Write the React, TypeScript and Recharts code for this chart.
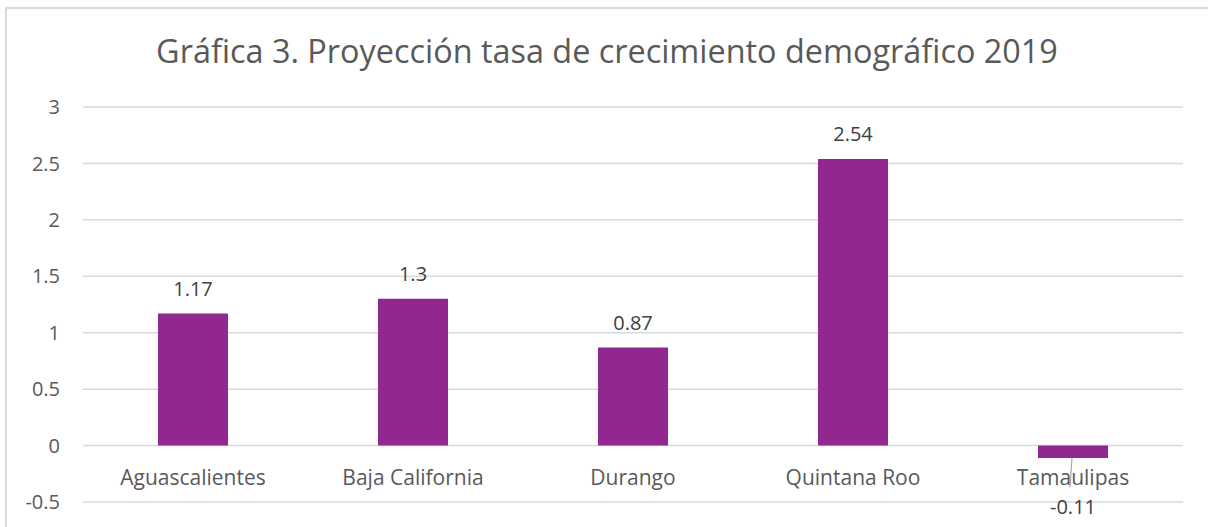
import React from 'react';
import { BarChart, Bar, XAxis, YAxis, CartesianGrid, LabelList } from 'recharts';

const title = 'Gráfica 3. Proyección tasa de crecimiento demográfico 2019';
const categories = ['Aguascalientes', 'Baja California', 'Durango', 'Quintana Roo', 'Tamaulipas'];
const values = [1.17, 1.3, 0.87, 2.54, -0.11];
const valueLabels = ['1.17', '1.3', '0.87', '2.54', '-0.11'];
const yTicks = [-0.5, 0, 0.5, 1, 1.5, 2, 2.5, 3];

const data = categories.map((name, i) => ({ name, value: values[i], label: valueLabels[i] }));

const FONT = '"Open Sans", "Noto Sans", sans-serif';
const TEXT = '#595959';
const LABEL = '#404040';
const BAR = '#92278F';
const GRID = '#d9d9d9';

function geom(props: any) {
  const vb = props.viewBox || {};
  const x = props.x ?? vb.x;
  const y = props.y ?? vb.y;
  const w = props.width ?? vb.width;
  const h = props.height ?? vb.height;
  const top = Math.min(y, y + h);
  const bottom = Math.max(y, y + h);
  return { x, w, top, bottom };
}

const CategoryLabel = (props: any) => {
  const { x, w, top, bottom } = geom(props);
  const v = values[props.index];
  const zero = v >= 0 ? bottom : top;
  return (
    <text x={x + w / 2} y={zero + 31} textAnchor="middle" dominantBaseline="central"
      fill={TEXT} fontSize={21} fontFamily={FONT}>
      {props.value}
    </text>
  );
};

const ValueLabel = (props: any) => {
  const { x, w, top, bottom } = geom(props);
  const v = values[props.index];
  const cx = x + w / 2;
  if (v >= 0) {
    return (
      <text x={cx} y={top - 25} textAnchor="middle" dominantBaseline="central"
        fill={LABEL} fontSize={20} fontFamily={FONT}>
        {props.value}
      </text>
    );
  }
  const zero = top;
  return (
    <g>
      <line x1={cx - 1} y1={bottom} x2={cx - 3} y2={zero + 42} stroke="#a6a6a6" strokeWidth={1.2} />
      <text x={cx} y={zero + 61} textAnchor="middle" dominantBaseline="central"
        fill={LABEL} fontSize={20} fontFamily={FONT}>
        {props.value}
      </text>
    </g>
  );
};

export default function App() {
  return (
    <div style={{ position: 'absolute', left: 0, top: 0, width: 1208, height: 527, overflow: 'hidden', background: '#fff' }}>
      <div style={{ position: 'absolute', left: 5, top: 7, width: 1220, height: 540, borderLeft: `2px solid ${GRID}`, borderTop: `2px solid ${GRID}`, boxSizing: 'border-box' }} />
      <div style={{ position: 'absolute', left: 3, top: 27, width: 1208, textAlign: 'center', fontFamily: FONT, fontSize: 32.4, color: TEXT, lineHeight: '46px', whiteSpace: 'nowrap' }}>
        {title}
      </div>
      <div style={{ position: 'absolute', left: 0, top: 0 }}>
        <BarChart width={1208} height={527} data={data} margin={{ top: 107, right: 25, bottom: 25, left: 0 }} barSize={70}>
          <CartesianGrid vertical={false} stroke={GRID} strokeWidth={1.5} />
          <XAxis dataKey="name" height={0} tick={false} axisLine={false} tickLine={false} />
          <YAxis width={83} domain={[-0.5, 3]} ticks={yTicks} type="number" axisLine={false} tickLine={false}
            tickSize={0} tickMargin={23} interval={0}
            tick={{ fill: TEXT, fontSize: 20, fontFamily: FONT }} />
          <Bar dataKey="value" fill={BAR} isAnimationActive={false}>
            <LabelList dataKey="label" content={ValueLabel} />
            <LabelList dataKey="name" content={CategoryLabel} />
          </Bar>
        </BarChart>
      </div>
    </div>
  );
}
